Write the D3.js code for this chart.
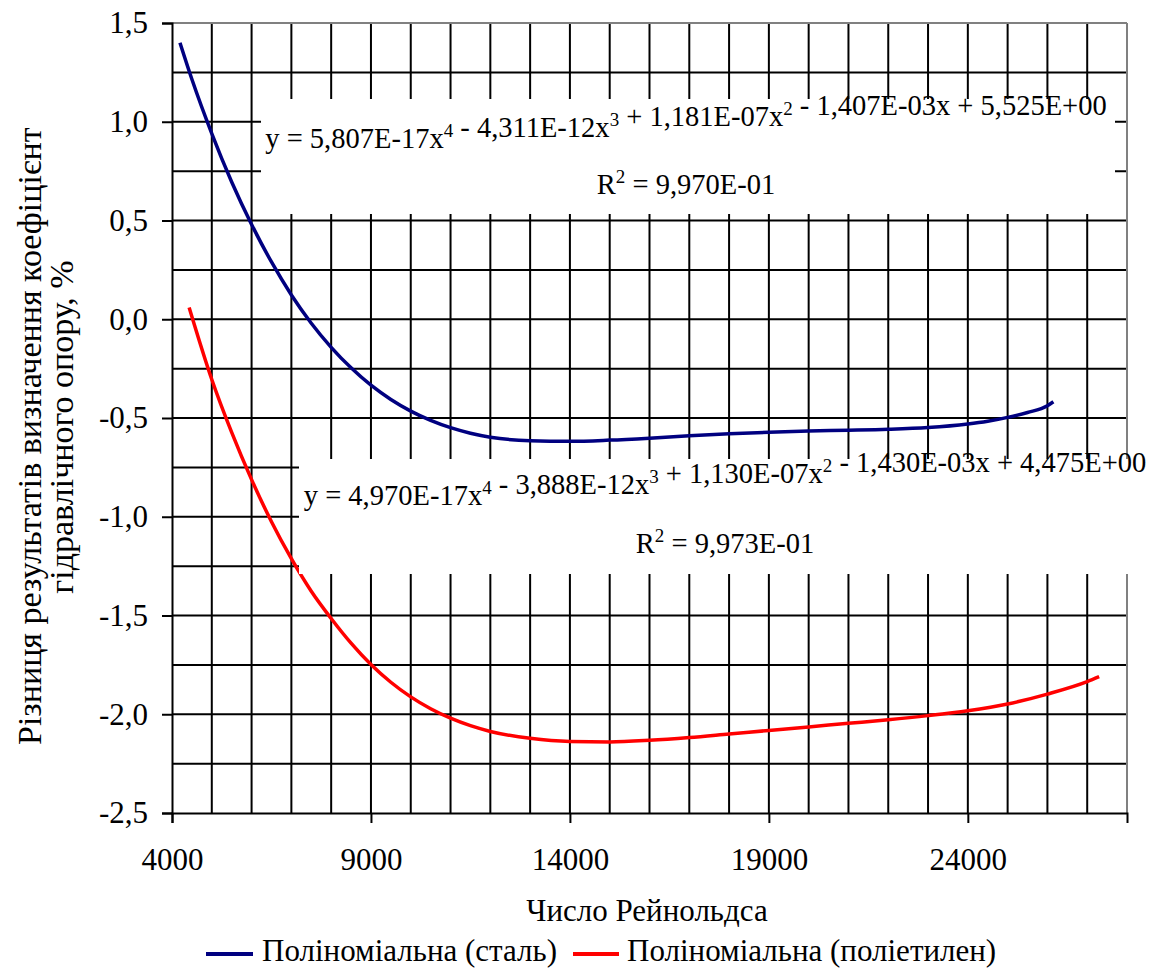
<!DOCTYPE html>
<html>
<head>
<meta charset="utf-8">
<script src="https://cdn.jsdelivr.net/npm/d3@7/dist/d3.min.js"></script>
<style>
  html, body { margin: 0; padding: 0; background: #fff; }
  svg { display: block; }
  text { font-family: "Liberation Serif", "Times New Roman", serif; fill: #000; }
</style>
</head>
<body>
<svg id="chart" width="1155" height="969"></svg>
<script>
// ---- data ----
const steelX = [4200, 4500, 5000, 5500, 6000, 6500, 7000, 7500, 8000, 8500, 9000, 9500, 10000, 10500, 11000, 11500, 12000, 13000, 14000, 15000, 16000, 17000, 18000, 19000, 20000, 21000, 22000, 23000, 24000, 24500, 25000, 25500, 26000, 26150];
const steelY = [1.40, 1.215, 0.94, 0.695, 0.48, 0.29, 0.123, -0.02, -0.142, -0.246, -0.334, -0.406, -0.465, -0.512, -0.549, -0.577, -0.597, -0.615, -0.618, -0.612, -0.602, -0.590, -0.580, -0.572, -0.566, -0.562, -0.557, -0.548, -0.530, -0.516, -0.497, -0.472, -0.438, -0.418];

const polyX = [4430, 5000, 5500, 6000, 6500, 7000, 7500, 8000, 8500, 9000, 9500, 10000, 10500, 11000, 11500, 12000, 13000, 14000, 15000, 16000, 17000, 18000, 19000, 20000, 21000, 22000, 23000, 24000, 25000, 26000, 27000, 27300];
const polyY = [0.06, -0.305, -0.573, -0.812, -1.025, -1.212, -1.377, -1.515, -1.640, -1.748, -1.838, -1.912, -1.972, -2.020, -2.058, -2.087, -2.122, -2.138, -2.140, -2.132, -2.118, -2.100, -2.082, -2.064, -2.046, -2.028, -2.007, -1.982, -1.948, -1.898, -1.835, -1.810];

const xTicks = [4000, 9000, 14000, 19000, 24000];
const yTicks = [-2.5, -2.0, -1.5, -1.0, -0.5, 0.0, 0.5, 1.0, 1.5];
const xDomain = [4000, 28000];
const yDomain = [-2.5, 1.5];

const seriesNames = ["Поліноміальна (сталь)", "Поліноміальна (поліетилен)"];
const seriesColors = ["#000080", "#FF0000"];
const xTitle = "Число Рейнольдса";
const yTitle1 = "Різниця результатів визначення коефіцієнта";
const yTitle2 = "гідравлічного опору, %";
const eqSteel = [["y = 5,807E-17x", "4"], [" - 4,311E-12x", "3"], [" + 1,181E-07x", "2"], [" - 1,407E-03x + 5,525E+00", null]];
const r2Steel = "9,970E-01";
const eqPoly = [["y = 4,970E-17x", "4"], [" - 3,888E-12x", "3"], [" + 1,130E-07x", "2"], [" - 1,430E-03x + 4,475E+00", null]];
const r2Poly = "9,973E-01";

// ---- layout ----
const plot = { left: 172, right: 1127, top: 23, bottom: 813 };
const svg = d3.select("#chart");

const x = d3.scaleLinear().domain(xDomain).range([plot.left, plot.right]);
const y = d3.scaleLinear().domain(yDomain).range([plot.bottom, plot.top]);

const loc = d3.formatLocale({ decimal: ",", thousands: "", grouping: [3], currency: ["", ""], minus: "-" });
const yFmt = loc.format(".1f");

// grid
const grid = svg.append("g");
grid.selectAll("line.v").data(d3.range(5000, 28000, 1000)).join("line")
  .attr("x1", d => x(d)).attr("x2", d => x(d))
  .attr("y1", plot.top).attr("y2", plot.bottom)
  .attr("stroke", "#000").attr("stroke-width", 2);
grid.selectAll("line.h").data(d3.range(-2.25, 1.5, 0.25)).join("line")
  .attr("x1", plot.left).attr("x2", plot.right)
  .attr("y1", d => y(d)).attr("y2", d => y(d))
  .attr("stroke", "#000").attr("stroke-width", 2);

// plot border (top/right gray)
svg.append("line").attr("x1", plot.left).attr("x2", plot.right).attr("y1", plot.top).attr("y2", plot.top)
  .attr("stroke", "#808080").attr("stroke-width", 2);
svg.append("line").attr("x1", plot.right).attr("x2", plot.right).attr("y1", plot.top).attr("y2", plot.bottom)
  .attr("stroke", "#808080").attr("stroke-width", 2);

// lines
const line = d3.line().x(d => x(d[0])).y(d => y(d[1])).curve(d3.curveMonotoneX);
svg.append("path").datum(steelX.map((v, i) => [v, steelY[i]]))
  .attr("d", line).attr("fill", "none").attr("stroke", seriesColors[0]).attr("stroke-width", 3.5);
svg.append("path").datum(polyX.map((v, i) => [v, polyY[i]]))
  .attr("d", line).attr("fill", "none").attr("stroke", seriesColors[1]).attr("stroke-width", 3.5);

// equation label boxes
function eqBox(bx, by, bw, bh, cx, base1, base2, eq, r2) {
  const g = svg.append("g");
  g.append("rect").attr("x", bx).attr("y", by).attr("width", bw).attr("height", bh).attr("fill", "#fff");
  const t = g.append("text").attr("x", cx).attr("y", base1).attr("text-anchor", "middle").style("font-size", "28.5px");
  eq.forEach(([s, sup]) => {
    t.append("tspan").text(s);
    if (sup) {
      t.append("tspan").attr("dy", -11).style("font-size", "19px").text(sup);
      t.append("tspan").attr("dy", 11).text("");
    }
  });
  const t2 = g.append("text").attr("x", cx).attr("y", base2).attr("text-anchor", "middle").style("font-size", "28.5px");
  t2.append("tspan").text("R");
  t2.append("tspan").attr("dy", -11).style("font-size", "19px").text("2");
  t2.append("tspan").attr("dy", 11).text(" = " + r2);
}
eqBox(261, 99, 854, 115, 686, 148, 194, eqSteel, r2Steel);
eqBox(299, 459, 856, 115, 725, 505, 553, eqPoly, r2Poly);

// axes
const yAxis = d3.axisLeft(y).tickValues(yTicks).tickSize(10).tickPadding(14).tickFormat(d => yFmt(d));
const gy = svg.append("g").attr("transform", `translate(${plot.left},0)`).call(yAxis);
gy.select(".domain").attr("stroke", "#000").attr("stroke-width", 2);
gy.selectAll(".tick line").attr("stroke", "#000").attr("stroke-width", 2);
gy.selectAll(".tick text").style("font-size", "31px").style("font-family", "'Liberation Serif', serif").attr("dy", "0.32em");

const xAxis = d3.axisBottom(x).tickValues(xTicks).tickSize(10).tickFormat(d => String(d));
const gx = svg.append("g").attr("transform", `translate(0,${plot.bottom})`).call(xAxis);
gx.select(".domain").attr("stroke", "#000").attr("stroke-width", 2);
gx.selectAll(".tick line").attr("stroke", "#000").attr("stroke-width", 2);
gx.selectAll(".tick text").style("font-size", "31px").style("font-family", "'Liberation Serif', serif").attr("y", 57).attr("dy", 0);

// axis titles
svg.append("text").attr("x", 647).attr("y", 921).attr("text-anchor", "middle").style("font-size", "31px").text(xTitle);

svg.append("clipPath").attr("id", "ytclip").append("rect").attr("x", 0).attr("y", 128).attr("width", 100).attr("height", 700);
const yt = svg.append("g").attr("clip-path", "url(#ytclip)");
yt.append("text").attr("transform", "translate(41,745) rotate(-90)").attr("text-anchor", "start").style("font-size", "34px").text(yTitle1);
yt.append("text").attr("transform", "translate(73,427) rotate(-90)").attr("text-anchor", "middle").style("font-size", "34px").text(yTitle2);

// legend
const leg = [{ x1: 206, x2: 253, tx: 262 }, { x1: 573, x2: 619, tx: 627 }];
leg.forEach((l, i) => {
  svg.append("line").attr("x1", l.x1).attr("x2", l.x2).attr("y1", 954).attr("y2", 954)
    .attr("stroke", seriesColors[i]).attr("stroke-width", 4);
  svg.append("text").attr("x", l.tx).attr("y", 961).style("font-size", "31px").text(seriesNames[i]);
});
</script>
</body>
</html>
